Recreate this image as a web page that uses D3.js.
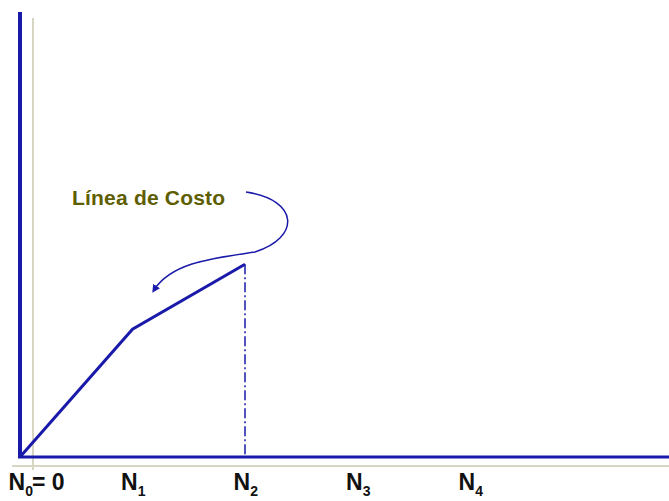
<!DOCTYPE html>
<html><head><meta charset="utf-8">
<script src="https://cdn.jsdelivr.net/npm/d3@7"></script>
<style>body{margin:0;background:#fff}svg{display:block}</style>
</head><body><svg id="c" width="669" height="501"></svg>
<script>
const categories = ["N0","N1","N2","N3","N4"];
const tickSubs = ["0","1","2","3","4"];
const costX = [0, 1, 2];
const costY = [0, 28.7, 43.3];
const costLabel = "Línea de Costo";

const svg = d3.select("#c");
const x = d3.scaleLinear().domain([0, 4]).range([20, 470]);
const y = d3.scaleLinear().domain([0, 100]).range([457, 12]);
const blue = "#1a1aaa";
const beige = "#d6d6c2";

// beige shadow lines
svg.append("line").attr("x1", 33).attr("x2", 33).attr("y1", 18).attr("y2", 470)
  .attr("stroke", beige).attr("stroke-width", 2);
svg.append("line").attr("x1", 12).attr("x2", 669).attr("y1", 466).attr("y2", 466)
  .attr("stroke", beige).attr("stroke-width", 2);

// axes
svg.append("line").attr("x1", x(0)).attr("x2", x(0)).attr("y1", y(100)).attr("y2", y(0) + 1)
  .attr("stroke", blue).attr("stroke-width", 4);
svg.append("line").attr("x1", x(0) - 2).attr("x2", 669).attr("y1", y(0)).attr("y2", y(0))
  .attr("stroke", blue).attr("stroke-width", 3);

// vertical dash-dot at N2
svg.append("line").attr("x1", x(2)).attr("x2", x(2)).attr("y1", y(costY[2])).attr("y2", y(0))
  .attr("stroke", blue).attr("stroke-width", 1.5).attr("stroke-dasharray", "10,3,2,3");

// cost line
const line = d3.line().x((d, i) => x(costX[i])).y(d => y(d));
svg.append("path").datum(costY).attr("d", line).attr("fill", "none")
  .attr("stroke", blue).attr("stroke-width", 3);

// tick labels
const lab = svg.append("g").attr("font-family", "Liberation Sans, Arial, sans-serif")
  .attr("font-weight", "bold").attr("fill", "#111");
categories.forEach((c, i) => {
  const t = lab.append("text").attr("x", x(i) - 11.5).attr("y", 490).attr("font-size", 23);
  t.append("tspan").text("N");
  t.append("tspan").attr("font-size", 14).attr("dy", 6).text(tickSubs[i]);
  if (i === 0) t.append("tspan").attr("dy", -6).attr("font-size", 23).attr("dx", -1).text("= 0");
});

// cost label
svg.append("text").attr("x", 72).attr("y", 205).attr("font-family", "Liberation Sans, Arial, sans-serif")
  .attr("font-weight", "bold").attr("font-size", 21).attr("fill", "#5e5e00")
  .attr("letter-spacing", 0.2).text(costLabel);

// curved arrow
svg.append("defs").append("marker").attr("id", "ah").attr("viewBox", "0 0 10 10")
  .attr("refX", 6).attr("refY", 5).attr("markerWidth", 8).attr("markerHeight", 8)
  .attr("markerUnits", "userSpaceOnUse")
  .attr("orient", "auto").append("path").attr("d", "M0,0L10,5L0,10Z").attr("fill", blue);
svg.append("path")
  .attr("d", "M246,192 C300,200 300,238 255,252 C215,258 172,262 154,290")
  .attr("fill", "none").attr("stroke", blue).attr("stroke-width", 1.5).attr("marker-end", "url(#ah)");
</script></body></html>
